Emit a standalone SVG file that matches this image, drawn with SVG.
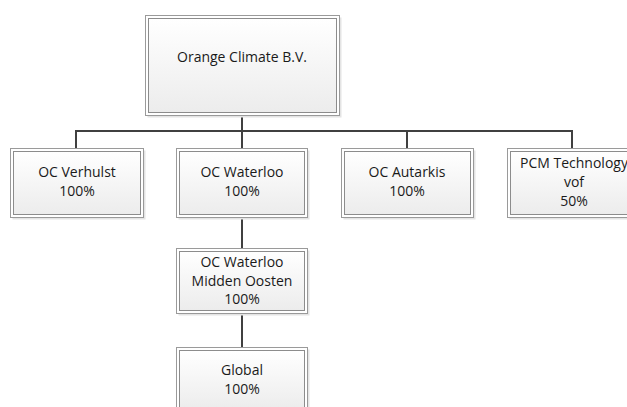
<svg xmlns="http://www.w3.org/2000/svg" width="627" height="407" viewBox="0 0 627 407">
<defs>
<linearGradient id="g" x1="0" y1="0" x2="0" y2="1">
<stop offset="0" stop-color="#ffffff"/>
<stop offset="1" stop-color="#ececec"/>
</linearGradient>
</defs>
<style>
.sh{fill:#e4e4e4;stroke:none}
.o{fill:#ffffff;stroke:#9a9a9a;stroke-width:1}
.i{fill:url(#g);stroke:#8c8c8c;stroke-width:1}
.t{font-family:"Open Sans","Liberation Sans",sans-serif;font-size:14px;fill:#1a1a1a;text-anchor:middle}
.c{fill:none;stroke:#404040;stroke-width:2}
</style>
<rect width="627" height="407" fill="#ffffff"/>
<g id="connectors">
<path class="c" d="M242 115V131M76 148V131H572V148M242 131V148M407 131V148M242 217V248M242 313V347"/>
</g>
<g id="orange-climate">
<rect class="sh" x="147.5" y="17.5" width="194" height="100"/>
<rect class="o" x="145.5" y="15.5" width="194" height="100"/>
<rect class="i" x="148.5" y="18.5" width="188" height="94"/>
<text class="t" x="242" y="62">Orange Climate B.V.</text>
</g>
<g id="oc-verhulst">
<rect class="sh" x="12.5" y="150.5" width="133" height="69"/>
<rect class="o" x="10.5" y="148.5" width="133" height="69"/>
<rect class="i" x="13.5" y="151.5" width="127" height="63"/>
<text class="t" x="77" y="177">OC Verhulst</text>
<text class="t" x="77" y="196">100%</text>
</g>
<g id="oc-waterloo">
<rect class="sh" x="178.5" y="150.5" width="131" height="69"/>
<rect class="o" x="176.5" y="148.5" width="131" height="69"/>
<rect class="i" x="179.5" y="151.5" width="125" height="63"/>
<text class="t" x="242" y="177">OC Waterloo</text>
<text class="t" x="242" y="196">100%</text>
</g>
<g id="oc-autarkis">
<rect class="sh" x="343.5" y="150.5" width="132" height="69"/>
<rect class="o" x="341.5" y="148.5" width="132" height="69"/>
<rect class="i" x="344.5" y="151.5" width="126" height="63"/>
<text class="t" x="407" y="177">OC Autarkis</text>
<text class="t" x="407" y="196">100%</text>
</g>
<g id="pcm-technology">
<rect class="sh" x="509.5" y="150.5" width="132" height="69"/>
<rect class="o" x="507.5" y="148.5" width="132" height="69"/>
<rect class="i" x="510.5" y="151.5" width="126" height="63"/>
<text class="t" x="574" y="168">PCM Technology</text>
<text class="t" x="574" y="187">vof</text>
<text class="t" x="574" y="206">50%</text>
</g>
<g id="oc-waterloo-midden-oosten">
<rect class="sh" x="178.5" y="250.5" width="131" height="65"/>
<rect class="o" x="176.5" y="248.5" width="131" height="65"/>
<rect class="i" x="179.5" y="251.5" width="125" height="59"/>
<text class="t" x="242" y="267">OC Waterloo</text>
<text class="t" x="242" y="286">Midden Oosten</text>
<text class="t" x="242" y="304">100%</text>
</g>
<g id="global">
<rect class="sh" x="178.5" y="349.5" width="131" height="65"/>
<rect class="o" x="176.5" y="347.5" width="131" height="65"/>
<rect class="i" x="179.5" y="350.5" width="125" height="59"/>
<text class="t" x="242" y="375">Global</text>
<text class="t" x="242" y="394">100%</text>
</g>
</svg>
